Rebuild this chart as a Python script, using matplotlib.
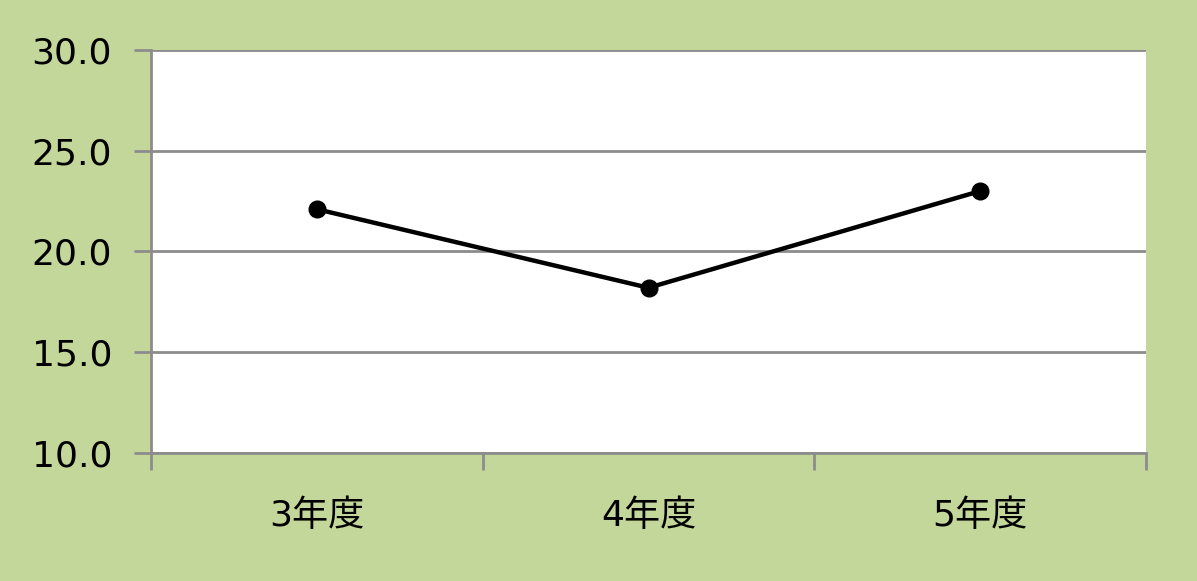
import numpy as np
import matplotlib
matplotlib.use("Agg")
import matplotlib.pyplot as plt

plt.rcParams['font.family'] = ['DejaVu Sans', 'Noto Sans CJK JP']

# data
years = ["3年度", "4年度", "5年度"]
values = [22.1, 18.2, 23.0]
y_ticks = [10.0, 15.0, 20.0, 25.0, 30.0]

bg = "#c4d79b"
grid_col = "#8c8c8c"

fig = plt.figure(figsize=(11.97, 5.81), dpi=100, facecolor=bg)
ax = fig.add_axes([151/1197, 1 - 453/581, (1146-151)/1197, (453-50)/581])
ax.set_facecolor("white")

x = np.arange(len(years)) + 0.5
ax.plot(x, values, color="black", lw=3.2, marker="o", ms=12, zorder=3)

ax.set_xlim(0, len(years))
ax.set_ylim(10, 30)
ax.set_yticks(y_ticks)
ax.set_yticklabels(["%0.1f" % t for t in y_ticks], fontsize=26)
ax.yaxis.grid(True, color=grid_col, lw=2)
ax.set_axisbelow(True)

# category boundaries carry the ticks, labels sit in between
ax.set_xticks(np.arange(len(years) + 1))
ax.set_xticklabels([])
ax.set_xticks(x, minor=True)
ax.set_xticklabels(years, minor=True, fontsize=26)
ax.tick_params(axis="x", which="minor", length=0, pad=33)
ax.tick_params(axis="x", which="major", length=12, width=2, color=grid_col)
ax.tick_params(axis="y", length=12, width=2, color=grid_col, pad=16)

for s in ["top", "right"]:
    ax.spines[s].set_visible(False)
for s in ["left", "bottom"]:
    ax.spines[s].set_color(grid_col)
    ax.spines[s].set_linewidth(2)

fig.savefig("out.png", dpi=100, facecolor=bg)
